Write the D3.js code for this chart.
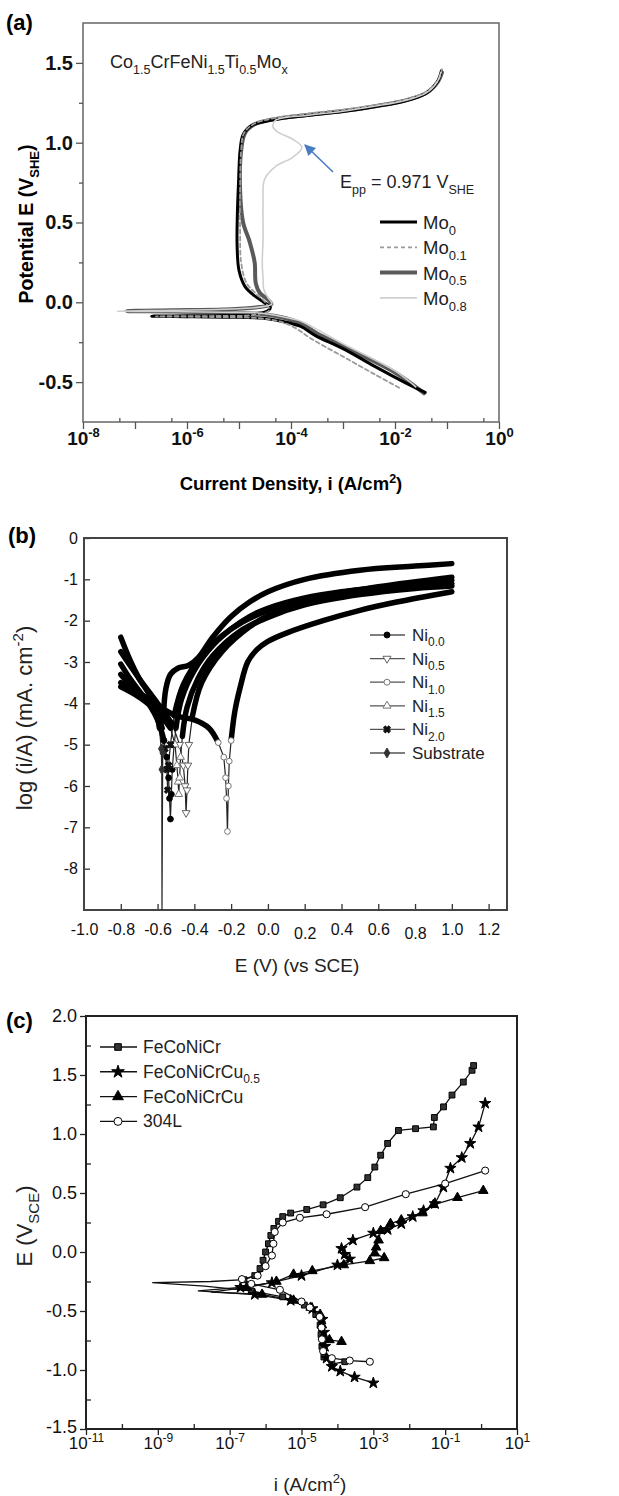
<!DOCTYPE html>
<html>
<head>
<meta charset="utf-8">
<script src="https://cdn.jsdelivr.net/npm/d3@7"></script>
<style>
  body { margin: 0; background: #fff; }
  svg { display: block; font-family: "Liberation Sans", Arial, sans-serif; }
</style>
</head>
<body>
<script>
// ! Panel (a) data: [current density (A/cm2), potential (V_SHE)]
const mo0 = [[3.8e-2,-0.565],[1.5e-2,-0.5],[4e-3,-0.4],[1e-3,-0.29],[3e-4,-0.21],[1.5e-4,-0.15],[7e-5,-0.12],[3e-5,-0.1],[5e-6,-0.093],[1e-6,-0.09],[2.1e-7,-0.087],[1e-6,-0.085],[5e-6,-0.083],[1.8e-5,-0.075],[3.5e-5,-0.055],[4e-5,-0.03],[3e-5,0.0],[2e-5,0.04],[1.3e-5,0.1],[1e-5,0.2],[9.2e-6,0.35],[9.3e-6,0.55],[9.8e-6,0.75],[1.05e-5,0.95],[1.2e-5,1.05],[1.8e-5,1.11],[4e-5,1.14],[2e-4,1.17],[1e-3,1.195],[4e-3,1.225],[1.5e-2,1.26],[4e-2,1.31],[6.5e-2,1.38],[7.8e-2,1.45]];
const mo01 = [[1.2e-2,-0.535],[4e-3,-0.45],[1e-3,-0.34],[2.5e-4,-0.23],[1.2e-4,-0.16],[6e-5,-0.12],[2.5e-5,-0.1],[3e-6,-0.092],[2.5e-7,-0.088],[3e-6,-0.086],[2e-5,-0.078],[3.8e-5,-0.05],[3.2e-5,0.0],[2.2e-5,0.05],[1.4e-5,0.12],[1.1e-5,0.25],[1.05e-5,0.45],[1.05e-5,0.7],[1.1e-5,0.95],[1.25e-5,1.06],[2e-5,1.12],[5e-5,1.155],[2.5e-4,1.185],[1.2e-3,1.21],[5e-3,1.24],[1.8e-2,1.275],[4.5e-2,1.33],[7e-2,1.4],[8e-2,1.46]];
const mo05 = [[3.6e-2,-0.57],[1e-2,-0.44],[1e-3,-0.275],[3.2e-4,-0.195],[1.6e-4,-0.135],[8e-5,-0.1],[3e-5,-0.075],[5e-6,-0.065],[5e-7,-0.058],[7e-8,-0.055],[5e-7,-0.05],[5e-6,-0.045],[2.5e-5,-0.03],[4.2e-5,-0.012],[3.5e-5,0.02],[2.5e-5,0.06],[2.1e-5,0.12],[2e-5,0.25],[1.6e-5,0.38],[1.2e-5,0.5],[1.05e-5,0.7],[1.1e-5,0.95],[1.3e-5,1.06],[2e-5,1.115],[4.5e-5,1.145],[2.2e-4,1.175],[1.1e-3,1.2],[4.5e-3,1.23],[1.6e-2,1.265],[4.2e-2,1.315],[6.8e-2,1.385],[8e-2,1.44]];
const mo08 = [[2.5e-2,-0.53],[1e-2,-0.43],[1e-3,-0.26],[2.8e-4,-0.16],[1.6e-4,-0.12],[8e-5,-0.095],[3e-5,-0.07],[5e-6,-0.062],[5e-7,-0.058],[4.5e-8,-0.056],[5e-7,-0.05],[5e-6,-0.044],[2.5e-5,-0.03],[4.3e-5,-0.01],[3.6e-5,0.03],[3e-5,0.08],[2.9e-5,0.15],[2.8e-5,0.25],[2.9e-5,0.39],[2.9e-5,0.62],[3.1e-5,0.77],[5e-5,0.85],[1.1e-4,0.91],[1.62e-4,0.971],[1.1e-4,1.02],[5.4e-5,1.07],[4.5e-5,1.1],[5e-5,1.14],[2.2e-4,1.172],[1e-3,1.197],[4e-3,1.228],[1.5e-2,1.263],[4e-2,1.312],[6.5e-2,1.382],[7.6e-2,1.44]];
const aDecades = [1e-8,1e-7,1e-6,1e-5,1e-4,1e-3,1e-2,1e-1,1];
const aExpLabels = ["-8","","-6","","-4","","-2","","0"];
const aMinorX = [5e-8,5e-7,5e-6,5e-5,5e-4,5e-3,5e-2,5e-1];
const aYTicks = [-0.5,0.0,0.5,1.0,1.5];
const aYLabels = ["-0.5","0.0","0.5","1.0","1.5"];
const aYMinor = [-0.25,0.25,0.75,1.25];

// ! Panel (b) data: [E (V vs SCE), log(i/A)]
const ni00 = [[-0.8,-3.05],[-0.75,-3.4],[-0.7,-3.7],[-0.65,-4.0],[-0.6,-4.4],[-0.565,-4.9],[-0.55,-5.3],[-0.54,-5.8],[-0.535,-6.3],[-0.53,-6.8],[-0.525,-6.2],[-0.52,-5.6],[-0.51,-5.0],[-0.5,-4.6],[-0.47,-3.9],[-0.4,-3.2],[-0.3,-2.6],[-0.2,-2.2],[-0.1,-1.9],[0.0,-1.7],[0.2,-1.45],[0.4,-1.3],[0.6,-1.2],[0.8,-1.1],[1.0,-1.02]];
const ni05 = [[-0.8,-2.75],[-0.7,-3.4],[-0.6,-4.0],[-0.52,-4.5],[-0.48,-5.0],[-0.46,-5.5],[-0.45,-6.0],[-0.445,-6.65],[-0.44,-6.1],[-0.435,-5.5],[-0.43,-5.0],[-0.41,-4.3],[-0.36,-3.5],[-0.25,-2.75],[-0.1,-2.15],[0.0,-1.88],[0.2,-1.57],[0.5,-1.32],[0.8,-1.18],[1.0,-1.1]];
const ni10 = [[-0.8,-3.5],[-0.7,-3.75],[-0.6,-4.05],[-0.5,-4.3],[-0.4,-4.4],[-0.32,-4.6],[-0.27,-4.95],[-0.24,-5.3],[-0.23,-5.8],[-0.225,-6.3],[-0.22,-7.1],[-0.215,-6.0],[-0.21,-5.4],[-0.2,-4.9],[-0.18,-4.2],[-0.15,-3.6],[-0.11,-3.0],[-0.06,-2.7],[0.0,-2.5],[0.1,-2.3],[0.3,-2.0],[0.5,-1.75],[0.7,-1.55],[1.0,-1.3]];
const ni15 = [[-0.8,-3.3],[-0.7,-3.8],[-0.6,-4.2],[-0.53,-4.6],[-0.505,-5.0],[-0.495,-5.5],[-0.488,-5.9],[-0.485,-6.2],[-0.48,-5.8],[-0.475,-5.3],[-0.465,-4.8],[-0.44,-4.1],[-0.38,-3.4],[-0.3,-2.85],[-0.15,-2.25],[0.0,-1.92],[0.2,-1.62],[0.5,-1.37],[0.8,-1.22],[1.0,-1.16]];
const ni20 = [[-0.8,-3.6],[-0.7,-3.85],[-0.62,-4.15],[-0.575,-4.6],[-0.56,-5.1],[-0.55,-5.6],[-0.545,-6.1],[-0.54,-5.5],[-0.53,-5.0],[-0.51,-4.3],[-0.46,-3.55],[-0.36,-2.85],[-0.2,-2.2],[0.0,-1.75],[0.3,-1.4],[0.6,-1.18],[1.0,-0.95]];
const substrate = [[-0.8,-2.4],[-0.75,-2.95],[-0.7,-3.4],[-0.65,-3.75],[-0.61,-4.15],[-0.59,-4.6],[-0.58,-5.1],[-0.577,-5.6],[-0.576,-9.0],[-0.572,-5.2],[-0.568,-4.3],[-0.555,-3.65],[-0.53,-3.3],[-0.49,-3.15],[-0.43,-3.08],[-0.38,-2.9],[-0.3,-2.4],[-0.2,-1.9],[-0.1,-1.55],[0.0,-1.3],[0.2,-1.0],[0.5,-0.78],[0.8,-0.68],[1.0,-0.62]];
const bXTicks = [-1.0,-0.8,-0.6,-0.4,-0.2,0.0,0.2,0.4,0.6,0.8,1.0,1.2];
const bXLabels = ["-1.0","-0.8","-0.6","-0.4","-0.2","0.0","0.2","0.4","0.6","0.8","1.0","1.2"];
const bYTicks = [0,-1,-2,-3,-4,-5,-6,-7,-8];
const bYLabels = ["0","-1","-2","-3","-4","-5","-6","-7","-8"];

// ! Panel (c) data: [i (A/cm2), E (V_SCE)]
const feCoNiCr = [[1.6e-4,-0.93],[7e-5,-0.95],[4.2e-5,-0.89],[3.7e-5,-0.8],[3.5e-5,-0.7],[3.3e-5,-0.62],[2.5e-5,-0.53],[1.2e-5,-0.45],[3e-6,-0.38],[4e-7,-0.33],[2e-8,-0.29],[7e-10,-0.26],[3e-8,-0.25],[2.5e-7,-0.235],[5e-7,-0.2],[7e-7,-0.14],[8.5e-7,-0.07],[1e-6,0.0],[1.2e-6,0.07],[1.4e-6,0.14],[1.7e-6,0.2],[2.3e-6,0.26],[3e-6,0.3],[5e-6,0.33],[1.4e-5,0.36],[4e-5,0.4],[1.2e-4,0.46],[3.5e-4,0.55],[7e-4,0.63],[1.1e-3,0.72],[1.6e-3,0.82],[2.5e-3,0.92],[5e-3,1.03],[1.5e-2,1.045],[4.7e-2,1.06],[5e-2,1.14],[9e-2,1.23],[1.55e-1,1.33],[3.2e-1,1.44],[5.6e-1,1.54],[6.2e-1,1.58]];
const feCoNiCrCu05 = [[1e-3,-1.11],[3e-4,-1.06],[1.2e-4,-1.01],[7e-5,-0.97],[5e-5,-0.9],[4.5e-5,-0.8],[4.2e-5,-0.68],[3.8e-5,-0.57],[2e-5,-0.48],[5e-6,-0.41],[5e-7,-0.36],[1.3e-8,-0.33],[2e-7,-0.3],[1.5e-6,-0.26],[1e-5,-0.2],[1e-4,-0.11],[2.2e-4,-0.06],[1.6e-4,-0.02],[1.3e-4,0.03],[2.7e-4,0.1],[1e-3,0.16],[2.5e-3,0.19],[6e-3,0.24],[1.25e-2,0.3],[2.5e-2,0.35],[5.2e-2,0.41],[8.9e-2,0.55],[1.4e-1,0.71],[2.9e-1,0.8],[5e-1,0.92],[8.5e-1,1.06],[1.3,1.26]];
const feCoNiCrCu = [[1.3e-4,-0.76],[6e-5,-0.745],[4e-5,-0.72],[3.7e-5,-0.62],[3.3e-5,-0.53],[1.8e-5,-0.47],[6e-6,-0.41],[8e-7,-0.36],[3e-8,-0.34],[3e-7,-0.3],[2e-6,-0.25],[6e-6,-0.19],[2e-5,-0.16],[1.5e-4,-0.11],[8e-4,-0.075],[2e-3,-0.05],[1.1e-3,-0.01],[1.2e-3,0.04],[1.4e-3,0.1],[1.6e-3,0.18],[3e-3,0.24],[6e-3,0.27],[2.3e-2,0.33],[4.7e-2,0.4],[2.2e-1,0.46],[1.15,0.52]];
const ss304L = [[8e-4,-0.93],[2.2e-4,-0.92],[7e-5,-0.9],[4e-5,-0.84],[3.7e-5,-0.74],[3.6e-5,-0.64],[3.2e-5,-0.55],[1.7e-5,-0.47],[1e-5,-0.42],[2.5e-6,-0.32],[4e-7,-0.27],[2.2e-7,-0.23],[6e-7,-0.2],[1e-6,-0.12],[1.5e-6,-0.03],[1.65e-6,0.07],[1.8e-6,0.17],[3e-6,0.25],[9e-6,0.29],[5e-5,0.32],[5.9e-4,0.38],[8e-3,0.49],[1e-1,0.58],[1.3,0.69]];
const cDecades = [1e-11,1e-10,1e-9,1e-8,1e-7,1e-6,1e-5,1e-4,1e-3,1e-2,1e-1,1,10];
const cExpLabels = ["-11","","-9","","-7","","-5","","-3","","-1","","1"];
const cYTicks = [-1.5,-1.0,-0.5,0.0,0.5,1.0,1.5,2.0];
const cYLabels = ["-1.5","-1.0","-0.5","0.0","0.5","1.0","1.5","2.0"];
const cYMinor = [-1.25,-0.75,-0.25,0.25,0.75,1.25,1.75];

// ! SVG container
const width = 619;
const height = 1496;
const svg = d3.select("body").append("svg")
  .attr("width", width)
  .attr("height", height)
  .style("background-color", "white");

const defs = svg.append("defs");
defs.append("marker")
  .attr("id", "arrowHead")
  .attr("viewBox", "0 0 10 10")
  .attr("refX", 9).attr("refY", 5)
  .attr("markerWidth", 7).attr("markerHeight", 7)
  .attr("orient", "auto-start-reverse")
  .append("path")
  .attr("d", "M0,0L10,5L0,10z")
  .attr("fill", "#4a7cc4");

// ! helper: text with sub / superscripts
const richText = (sel, parts, small) => {
  let shift = 0;
  parts.forEach(([t, kind]) => {
    const target = kind === "sub" ? small * 0.45 : kind === "sup" ? -small * 0.6 : 0;
    sel.append("tspan")
      .attr("dy", target - shift)
      .attr("font-size", kind ? small : null)
      .text(t);
    shift = target;
  });
  return sel;
};

const styleAxis = (g, size, weight, color) => {
  g.attr("font-family", "Liberation Sans, Arial, sans-serif")
    .attr("font-size", size)
    .attr("font-weight", weight);
  g.select(".domain").remove();
  g.selectAll(".tick line").attr("stroke", color).attr("stroke-width", 1.3);
  g.selectAll(".tick text").attr("fill", "#111");
};

// =========================== (a) ===========================
const aX = d3.scaleLog().domain([1e-8, 1]).range([83, 499]);
const aY = d3.scaleLinear().domain([-0.75, 1.75]).range([422, 23]);

const gA = svg.append("g");
gA.append("rect")
  .attr("x", aX.range()[0]).attr("y", aY.range()[1])
  .attr("width", aX.range()[1] - aX.range()[0])
  .attr("height", aY.range()[0] - aY.range()[1])
  .attr("fill", "none").attr("stroke", "#666").attr("stroke-width", 1.5);

const aXAxis = gA.append("g")
  .attr("transform", `translate(0, ${aY.range()[0]})`)
  .call(d3.axisBottom(aX).tickValues(aDecades).tickSize(7).tickPadding(16).tickFormat(() => ""));
styleAxis(aXAxis, 19, "bold", "#555");
aXAxis.selectAll(".tick text").each(function (d, i) {
  if (aExpLabels[i]) richText(d3.select(this), [["10", ""], [aExpLabels[i], "sup"]], 13);
});
const aXMinor = gA.append("g")
  .attr("transform", `translate(0, ${aY.range()[0]})`)
  .call(d3.axisBottom(aX).tickValues(aMinorX).tickSize(-4).tickFormat(() => ""));
styleAxis(aXMinor, 10, "normal", "#555");

const aYAxis = gA.append("g")
  .attr("transform", `translate(${aX.range()[0]}, 0)`)
  .call(d3.axisLeft(aY).tickValues(aYTicks).tickSize(7).tickPadding(3).tickFormat((d, i) => aYLabels[i]));
styleAxis(aYAxis, 20, "bold", "#555");
const aYMin = gA.append("g")
  .attr("transform", `translate(${aX.range()[0]}, 0)`)
  .call(d3.axisLeft(aY).tickValues(aYMinor).tickSize(4).tickFormat(() => ""));
styleAxis(aYMin, 10, "normal", "#555");

const aLineFree = d3.line().x((d) => aX(d[0])).y((d) => aY(d[1])).curve(d3.curveCatmullRom.alpha(0.5));

const aSeries = [
  { label: "0.5", data: mo05, color: "#5a5a5a", width: 4, dash: null },
  { label: "0", data: mo0, color: "#000", width: 3, dash: null },
  { label: "0.1", data: mo01, color: "#9a9a9a", width: 1.8, dash: "4,3" },
  { label: "0.8", data: mo08, color: "#cfcfcf", width: 1.6, dash: null },
];
aSeries.forEach((s) => {
  gA.append("path")
    .datum(s.data)
    .attr("d", aLineFree)
    .attr("fill", "none")
    .attr("stroke", s.color)
    .attr("stroke-width", s.width)
    .attr("stroke-dasharray", s.dash)
    .attr("stroke-linejoin", "round")
    .attr("stroke-linecap", "round");
});

// ! legend (a)
const aLegendOrder = ["0", "0.1", "0.5", "0.8"];
aLegendOrder.forEach((lab, i) => {
  const s = aSeries.find((d) => d.label === lab);
  const y = 222 + i * 25.3;
  gA.append("line")
    .attr("x1", 380).attr("x2", 417).attr("y1", y).attr("y2", y)
    .attr("stroke", s.color).attr("stroke-width", s.width)
    .attr("stroke-dasharray", s.dash);
  richText(gA.append("text").attr("x", 423).attr("y", y + 7).attr("font-size", 18.5).attr("fill", "#222"),
    [["Mo", ""], [lab, "sub"]], 13);
});

richText(gA.append("text").attr("x", 110).attr("y", 68).attr("font-size", 18).attr("fill", "#222"),
  [["Co", ""], ["1.5", "sub"], ["CrFeNi", ""], ["1.5", "sub"], ["Ti", ""], ["0.5", "sub"], ["Mo", ""], ["x", "sub"]], 12.5);
richText(gA.append("text").attr("x", 340).attr("y", 188).attr("font-size", 18).attr("fill", "#222"),
  [["E", ""], ["pp", "sub"], [" = 0.971 V", ""], ["SHE", "sub"]], 12.5);
gA.append("line")
  .attr("x1", 333).attr("y1", 172).attr("x2", 305).attr("y2", 145)
  .attr("stroke", "#4a7cc4").attr("stroke-width", 1.6)
  .attr("marker-end", "url(#arrowHead)");

gA.append("text").attr("x", 6).attr("y", 30).attr("font-size", 22).attr("font-weight", "bold").text("(a)");
richText(gA.append("text")
  .attr("transform", "translate(33, 224) rotate(-90)")
  .attr("text-anchor", "middle").attr("font-size", 19.5).attr("font-weight", "bold"),
  [["Potential  E (V", ""], ["SHE", "sub"], [")", ""]], 13);
richText(gA.append("text")
  .attr("x", 291).attr("y", 490)
  .attr("text-anchor", "middle").attr("font-size", 18.5).attr("font-weight", "bold"),
  [["Current Density, i (A/cm", ""], ["2", "sup"], [")", ""]], 12.5);

// =========================== (b) ===========================
const bX = d3.scaleLinear().domain([-1.0, 1.3]).range([84, 507]);
const bY = d3.scaleLinear().domain([-9, 0]).range([910, 538]);
const gB = svg.append("g");

const bXAxis = gB.append("g")
  .attr("transform", `translate(0, ${bY.range()[0]})`)
  .call(d3.axisBottom(bX).tickValues(bXTicks).tickSizeInner(-6).tickSizeOuter(0).tickPadding(14)
    .tickFormat((d, i) => bXLabels[i]));
styleAxis(bXAxis, 16, "normal", "#333");
bXAxis.selectAll(".tick text").attr("dy", (d, i) => (bXLabels[i] === "0.2" || bXLabels[i] === "0.8") ? "0.95em" : "0.71em");
bXAxis.selectAll(".tick").filter((d, i) => i === 0).select("line").remove();

const bYAxis = gB.append("g")
  .attr("transform", `translate(${bX.range()[0]}, 0)`)
  .call(d3.axisLeft(bY).tickValues(bYTicks).tickSizeInner(-6).tickSizeOuter(0).tickPadding(6)
    .tickFormat((d, i) => bYLabels[i]));
styleAxis(bYAxis, 16, "normal", "#333");

gB.append("rect")
  .attr("x", bX.range()[0]).attr("y", bY.range()[1])
  .attr("width", bX.range()[1] - bX.range()[0])
  .attr("height", bY.range()[0] - bY.range()[1])
  .attr("fill", "none").attr("stroke", "#444").attr("stroke-width", 2);

const bSeries = [
  { sub: "0.0", name: "Ni", data: ni00, symbol: d3.symbolCircle, rot: 0, fill: "#000", stroke: "#000" },
  { sub: "0.5", name: "Ni", data: ni05, symbol: d3.symbolTriangle, rot: 180, fill: "#fff", stroke: "#666" },
  { sub: "1.0", name: "Ni", data: ni10, symbol: d3.symbolCircle, rot: 0, fill: "#fff", stroke: "#777" },
  { sub: "1.5", name: "Ni", data: ni15, symbol: d3.symbolTriangle, rot: 0, fill: "#fff", stroke: "#777" },
  { sub: "2.0", name: "Ni", data: ni20, symbol: d3.symbolCross, rot: 45, fill: "#111", stroke: "#111" },
  { sub: "", name: "Substrate", data: substrate, symbol: d3.symbolDiamond, rot: 0, fill: "#333", stroke: "#333" },
];

const bThin = d3.line().x((d) => bX(d[0])).y((d) => bY(d[1]));
const bThick = d3.line().defined((d) => d[1] > -5.0).x((d) => bX(d[0])).y((d) => bY(d[1])).curve(d3.curveCatmullRom.alpha(0.5));
bSeries.forEach((s) => {
  gB.append("path").datum(s.data).attr("d", bThin)
    .attr("fill", "none").attr("stroke", "#222").attr("stroke-width", 1.2);
});
bSeries.forEach((s) => {
  gB.append("path").datum(s.data).attr("d", bThick)
    .attr("fill", "none").attr("stroke", "#000").attr("stroke-width", 5.5)
    .attr("stroke-linejoin", "round").attr("stroke-linecap", "round");
});
bSeries.forEach((s) => {
  gB.selectAll(null)
    .data(s.data.filter((d) => d[1] <= -4.9 && d[1] > -7.5))
    .enter().append("path")
    .attr("d", d3.symbol().type(s.symbol).size(26))
    .attr("transform", (d) => `translate(${bX(d[0])}, ${bY(d[1])}) rotate(${s.rot})`)
    .attr("fill", s.fill).attr("stroke", s.stroke).attr("stroke-width", 1);
});

// ! legend (b)
bSeries.forEach((s, i) => {
  const y = 635 + i * 23.6;
  gB.append("line").attr("x1", 370).attr("x2", 405).attr("y1", y).attr("y2", y)
    .attr("stroke", "#555").attr("stroke-width", 1.3);
  gB.append("path")
    .attr("d", d3.symbol().type(s.symbol).size(28))
    .attr("transform", `translate(387, ${y}) rotate(${s.rot})`)
    .attr("fill", s.fill).attr("stroke", s.stroke).attr("stroke-width", 1);
  const t = gB.append("text").attr("x", 412).attr("y", y + 6).attr("font-size", 17).attr("fill", "#222");
  if (s.sub) richText(t, [[s.name, ""], [s.sub, "sub"]], 12);
  else t.text(s.name);
});

gB.append("text").attr("x", 8).attr("y", 543).attr("font-size", 22).attr("font-weight", "bold").text("(b)");
richText(gB.append("text")
  .attr("transform", "translate(32, 718) rotate(-90)")
  .attr("text-anchor", "middle").attr("font-size", 22).attr("fill", "#222"),
  [["log (i/A) (mA. cm", ""], ["-2", "sup"], [")", ""]], 15);
gB.append("text").attr("x", 297).attr("y", 972).attr("text-anchor", "middle")
  .attr("font-size", 19).attr("fill", "#222").text("E (V) (vs SCE)");

// =========================== (c) ===========================
const cX = d3.scaleLog().domain([1e-11, 10]).range([86, 517]);
const cY = d3.scaleLinear().domain([-1.5, 2.0]).range([1429, 1016]);
const gC = svg.append("g");

const cXAxis = gC.append("g")
  .attr("transform", `translate(0, ${cY.range()[0]})`)
  .call(d3.axisBottom(cX).tickValues(cDecades.filter((d, i) => cExpLabels[i])).tickSize(6).tickPadding(14).tickFormat(() => ""));
styleAxis(cXAxis, 17, "normal", "#222");
cXAxis.selectAll(".tick text").each(function (d, i) {
  richText(d3.select(this), [["10", ""], [cExpLabels.filter((e) => e)[i], "sup"]], 12);
});
const cXMinor = gC.append("g")
  .attr("transform", `translate(0, ${cY.range()[0]})`)
  .call(d3.axisBottom(cX).tickValues(cDecades.filter((d, i) => !cExpLabels[i])).tickSize(-5).tickFormat(() => ""));
styleAxis(cXMinor, 10, "normal", "#222");

const cYAxis = gC.append("g")
  .attr("transform", `translate(${cX.range()[0]}, 0)`)
  .call(d3.axisLeft(cY).tickValues(cYTicks).tickSize(6).tickPadding(3).tickFormat((d, i) => cYLabels[i]));
styleAxis(cYAxis, 18, "normal", "#222");
cYAxis.selectAll(".tick text").filter((d, i) => i === 0).attr("dy", "0.2em");
const cYMin = gC.append("g")
  .attr("transform", `translate(${cX.range()[0]}, 0)`)
  .call(d3.axisLeft(cY).tickValues(cYMinor).tickSize(-5).tickFormat(() => ""));
styleAxis(cYMin, 10, "normal", "#222");

gC.append("rect")
  .attr("x", cX.range()[0]).attr("y", cY.range()[1])
  .attr("width", cX.range()[1] - cX.range()[0])
  .attr("height", cY.range()[0] - cY.range()[1])
  .attr("fill", "none").attr("stroke", "#222").attr("stroke-width", 2);

const cSeries = [
  { name: [["FeCoNiCr", ""]], data: feCoNiCr, symbol: d3.symbolSquare, size: 34, fill: "#333", stroke: "#000" },
  { name: [["FeCoNiCrCu", ""], ["0.5", "sub"]], data: feCoNiCrCu05, symbol: d3.symbolStar, size: 40, fill: "#000", stroke: "#000" },
  { name: [["FeCoNiCrCu", ""]], data: feCoNiCrCu, symbol: d3.symbolTriangle, size: 40, fill: "#000", stroke: "#000" },
  { name: [["304L", ""]], data: ss304L, symbol: d3.symbolCircle, size: 40, fill: "#fff", stroke: "#000" },
];
const cLine = d3.line().x((d) => cX(d[0])).y((d) => cY(d[1]));
cSeries.forEach((s) => {
  gC.append("path").datum(s.data).attr("d", cLine)
    .attr("fill", "none").attr("stroke", "#111").attr("stroke-width", 1.3);
});
cSeries.forEach((s) => {
  gC.selectAll(null)
    .data(s.data.filter((d) => d[0] >= 1e-7))
    .enter().append("path")
    .attr("d", d3.symbol().type(s.symbol).size(s.size))
    .attr("transform", (d) => `translate(${cX(d[0])}, ${cY(d[1])})`)
    .attr("fill", s.fill).attr("stroke", s.stroke).attr("stroke-width", 1);
});

// ! legend (c)
cSeries.forEach((s, i) => {
  const y = 1047 + i * 24.8;
  gC.append("line").attr("x1", 100).attr("x2", 137).attr("y1", y).attr("y2", y)
    .attr("stroke", "#111").attr("stroke-width", 1.4);
  gC.append("path")
    .attr("d", d3.symbol().type(s.symbol).size(s.size + 10))
    .attr("transform", `translate(118, ${y})`)
    .attr("fill", s.fill).attr("stroke", s.stroke).attr("stroke-width", 1);
  richText(gC.append("text").attr("x", 143).attr("y", y + 6).attr("font-size", 17.5).attr("fill", "#222"), s.name, 12);
});

gC.append("text").attr("x", 6).attr("y", 1028).attr("font-size", 22).attr("font-weight", "bold").text("(c)");
richText(gC.append("text")
  .attr("transform", "translate(32, 1226) rotate(-90)")
  .attr("text-anchor", "middle").attr("font-size", 22).attr("fill", "#222"),
  [["E (V", ""], ["SCE", "sub"], [")", ""]], 15);
richText(gC.append("text").attr("x", 310).attr("y", 1491).attr("text-anchor", "middle")
  .attr("font-size", 19).attr("fill", "#222"),
  [["i (A/cm", ""], ["2", "sup"], [")", ""]], 13);
</script>
</body>
</html>
